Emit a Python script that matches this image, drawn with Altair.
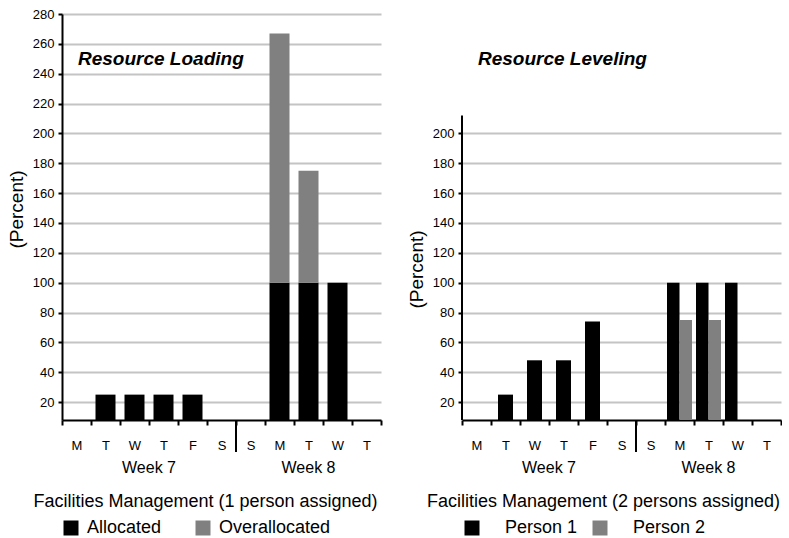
import json

import altair as alt
import pandas as pd

# ---- data -------------------------------------------------------------
days = ["M", "T", "W", "T", "F", "S", "S", "M", "T", "W", "T"]
weeks = ["Week 7"] * 6 + ["Week 8"] * 5
slots = list(range(len(days)))

# Resource loading: a single person carries all the work
allocated = [0, 25, 25, 25, 25, 0, 0, 100, 100, 100, 0]
overallocated = [0, 0, 0, 0, 0, 0, 0, 167, 75, 0, 0]
loading_kinds = ["Allocated", "Overallocated"]

# Resource leveling: the work is shared by two people
person1 = [0, 25, 48, 48, 74, 0, 0, 100, 100, 100, 0]
person2 = [0, 0, 0, 0, 0, 0, 0, 75, 75, 0, 0]
leveling_people = ["Person 1", "Person 2"]

loading_ticks = list(range(20, 281, 20))
leveling_ticks = list(range(20, 201, 20))
leveling_axis_top = 212
y_floor, y_ceiling = 8, 280

# ---- styling ----------------------------------------------------------
SANS = "Liberation Sans"
BLACK, GREY, GRID = "#000000", "#808080", "#c4c4c4"
W, H = 319, 406

loading_df = pd.DataFrame(
    {
        "slot": slots * 2,
        "kind": [loading_kinds[0]] * len(slots) + [loading_kinds[1]] * len(slots),
        "value": allocated + overallocated,
        "order": [0] * len(slots) + [1] * len(slots),
    }
)
leveling_df = pd.DataFrame(
    {
        "slot": slots * 2,
        "person": [leveling_people[0]] * len(slots) + [leveling_people[1]] * len(slots),
        "value": person1 + person2,
        "week": weeks * 2,
    }
)

label_expr = f"{json.dumps(days)}[datum.value]"
x_scale = alt.Scale(domain=slots, paddingInner=0, paddingOuter=0)
y_scale = alt.Scale(domain=[y_floor, y_ceiling], clamp=True, nice=False, zero=False)


def x_axis(title, title_x):
    return alt.Axis(
        title=title,
        labelExpr=label_expr,
        labelAngle=0,
        labelFont=SANS,
        labelFontSize=13,
        labelColor=BLACK,
        labelPadding=14,
        tickBand="extent",
        tickSize=5,
        tickWidth=2,
        tickColor=BLACK,
        domainColor=BLACK,
        domainWidth=2,
        grid=False,
        titleFont=SANS,
        titleFontSize=18,
        titleFontWeight="normal",
        titleColor=BLACK,
        titleX=title_x,
        titleY=86,
        titleAlign="center",
        titleBaseline="alphabetic",
    )


def y_axis(values, title_y, domain=True):
    return alt.Axis(
        values=values,
        title="(Percent)",
        titleFont=SANS,
        titleFontSize=19,
        titleFontWeight="normal",
        titleColor=BLACK,
        titlePadding=6,
        titleY=title_y,
        labelFont=SANS,
        labelFontSize=13,
        labelColor=BLACK,
        labelPadding=4,
        tickSize=4,
        tickWidth=2,
        tickColor=BLACK,
        domain=domain,
        domainColor=BLACK,
        domainWidth=2,
        grid=True,
        gridColor=GRID,
        gridWidth=2,
    )


def legend(legend_x, label_offset, column_padding):
    return alt.Legend(
        title=None,
        orient="none",
        legendX=legend_x,
        legendY=505,
        direction="horizontal",
        symbolType="square",
        symbolSize=225,
        symbolStrokeWidth=0,
        labelFont=SANS,
        labelFontSize=18,
        labelColor=BLACK,
        labelOffset=label_offset,
        columnPadding=column_padding,
    )


def week_layers(x_def_axis):
    """Week captions under the day letters plus the divider between weeks."""
    layers = []
    for name in dict.fromkeys(weeks):
        idx = [i for i, w in enumerate(weeks) if w == name]
        mid = (idx[0] + idx[-1] + 1) / 2
        anchor = int(mid) - 1 if mid == int(mid) else int(mid)
        band = mid - anchor
        layers.append(
            alt.Chart(pd.DataFrame({"slot": [anchor], "week": [name]}))
            .mark_text(font=SANS, fontSize=16, color=BLACK, baseline="middle")
            .encode(
                x=alt.X("slot:O", scale=x_scale, axis=x_def_axis, bandPosition=band),
                y=alt.value(H + 48),
                text="week:N",
            )
        )
    first_of_second = weeks.index(list(dict.fromkeys(weeks))[1])
    layers.append(
        alt.Chart(pd.DataFrame({"slot": [first_of_second]}))
        .mark_rule(color=BLACK, strokeWidth=2)
        .encode(
            x=alt.X("slot:O", scale=x_scale, axis=x_def_axis, bandPosition=0),
            y=alt.value(H),
            y2=alt.value(H + 32),
        )
    )
    return layers


def heading(text):
    return (
        alt.Chart(pd.DataFrame({"t": [text]}))
        .mark_text(
            font=SANS,
            fontSize=19,
            fontStyle="italic",
            fontWeight="bold",
            color=BLACK,
            align="left",
            baseline="alphabetic",
        )
        .encode(x=alt.value(16), y=alt.value(51), text="t:N")
    )


# ---- left panel: resource loading -------------------------------------
lx_axis = x_axis("Facilities Management (1 person assigned)", 143)
ly_axis = y_axis(loading_ticks, 195)

loading_bars = (
    alt.Chart(loading_df)
    .mark_bar(size=20)
    .encode(
        x=alt.X("slot:O", scale=x_scale, axis=lx_axis),
        y=alt.Y("value:Q", stack="zero", scale=y_scale, axis=ly_axis),
        color=alt.Color(
            "kind:N",
            scale=alt.Scale(domain=loading_kinds, range=[BLACK, GREY]),
            legend=legend(0, 7, 32),
        ),
        order=alt.Order("order:Q"),
    )
)

left = alt.layer(
    loading_bars, *week_layers(lx_axis), heading("Resource Loading")
).properties(width=W, height=H)

# ---- right panel: resource leveling -----------------------------------
rx_axis = x_axis("Facilities Management (2 persons assigned)", 141)
ry_axis = y_axis(leveling_ticks, 255, domain=False)
person_color = alt.Color(
    "person:N",
    scale=alt.Scale(domain=leveling_people, range=[BLACK, GREY]),
    legend=legend(1, 24, 13),
)

single_bars = (
    alt.Chart(leveling_df)
    .transform_filter(alt.datum.week == weeks[0])
    .transform_filter(alt.datum.person == leveling_people[0])
    .mark_bar(size=15)
    .encode(
        x=alt.X("slot:O", scale=x_scale, axis=rx_axis),
        y=alt.Y("value:Q", scale=y_scale, axis=ry_axis),
        color=person_color,
    )
)

paired_bars = (
    alt.Chart(leveling_df)
    .transform_filter(alt.datum.week == weeks[-1])
    .mark_bar()
    .encode(
        x=alt.X("slot:O", scale=x_scale, axis=rx_axis),
        xOffset=alt.XOffset(
            "person:N",
            scale=alt.Scale(domain=leveling_people, paddingInner=0, paddingOuter=0.16),
        ),
        y=alt.Y("value:Q", scale=y_scale, axis=ry_axis),
        color=person_color,
    )
)

axis_line = (
    alt.Chart(pd.DataFrame({"lo": [y_floor], "hi": [leveling_axis_top]}))
    .mark_rule(color=BLACK, strokeWidth=2)
    .encode(
        x=alt.value(0),
        y=alt.Y("lo:Q", scale=y_scale, axis=ry_axis),
        y2="hi:Q",
    )
)

right = alt.layer(
    single_bars, paired_bars, axis_line, *week_layers(rx_axis), heading("Resource Leveling")
).properties(width=W, height=H)

chart = (
    alt.hconcat(left, right, spacing=25)
    .resolve_scale(color="independent", x="independent", y="independent")
    .resolve_legend(color="independent")
    .properties(padding={"left": 7, "top": 8, "right": 0, "bottom": 0})
    .configure_view(stroke=None)
)

chart.save("out.html", embed_options={"renderer": "svg", "actions": False})
